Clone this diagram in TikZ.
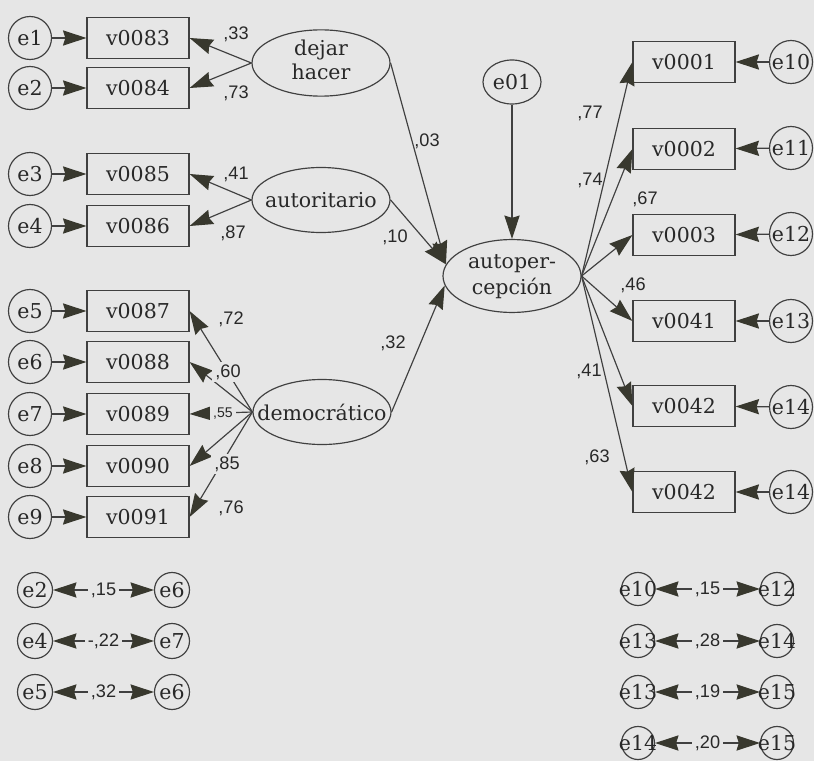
\documentclass[tikz,border=0pt]{standalone}
\usepackage{fontspec}
\setmainfont{DejaVu Serif}
\newfontfamily\wtfont{Liberation Sans}
\usetikzlibrary{arrows.meta,shapes.geometric}

\definecolor{bggray}{RGB}{230,230,230}
\definecolor{ink}{RGB}{64,64,64}
\definecolor{tipink}{RGB}{56,56,46}
\definecolor{txtgray}{RGB}{40,40,40}

\newcommand{\pxscl}{0.03}
\newcommand{\coordscl}[1]{#1*\pxscl}
\newcommand{\lenscl}[1]{#1*\pxscl cm}
\newcommand{\zw}[1]{\makebox[0pt]{#1}}
\newcommand{\errn}{\node[circle, draw=ink, line width=1pt, inner sep=0pt, minimum size=\lenscl{43}, text=txtgray]}
\newcommand{\serrn}{\errn[minimum size=\lenscl{35}]}
\newcommand{\obsn}{\node[rectangle, draw=ink, line width=1pt, inner sep=0pt, minimum width=\lenscl{102}, minimum height=\lenscl{41}, text=txtgray]}
\newcommand{\latn}{\node[ellipse, draw=ink, line width=1pt, inner sep=0pt, minimum width=\lenscl{138}, minimum height=\lenscl{65}, text=txtgray]}
\newcommand{\wtn}{\node[text=txtgray, font=\wtfont\fontsize{15.5}{17}\selectfont, inner sep=1pt]}
\newcommand{\wtcutn}{\wtn[fill=bggray, inner sep=2.5pt]}

\tikzset{
    wtcut/.style={text=txtgray, font=\wtfont\fontsize{15.5}{17}\selectfont, fill=bggray, inner sep=2.5pt},
    path/.style={ink, line width=1pt},
}

\begin{document}
\begin{tikzpicture}[font=\fontsize{17.5}{20}\selectfont,
    >={Stealth[length=20pt, width=13pt, inset=2pt, color=tipink]}]
            \useasboundingbox (0,0) rectangle (\coordscl{814}, -\coordscl{761});
            \fill[bggray] (0,0) rectangle (\coordscl{814}, -\coordscl{761});

            % left block
            \errn (e1) at (\coordscl{30}, -\coordscl{38}) {\zw{e1}};
            \errn (e2) at (\coordscl{30}, -\coordscl{88}) {\zw{e2}};
            \errn (e3) at (\coordscl{30}, -\coordscl{174}) {\zw{e3}};
            \errn (e4) at (\coordscl{30}, -\coordscl{226}) {\zw{e4}};
            \errn (e5) at (\coordscl{30}, -\coordscl{311}) {\zw{e5}};
            \errn (e6) at (\coordscl{30}, -\coordscl{362}) {\zw{e6}};
            \errn (e7) at (\coordscl{30}, -\coordscl{414}) {\zw{e7}};
            \errn (e8) at (\coordscl{30}, -\coordscl{466}) {\zw{e8}};
            \errn (e9) at (\coordscl{30}, -\coordscl{517}) {\zw{e9}};

            \obsn (v83) at (\coordscl{138}, -\coordscl{38}) {v0083};
            \obsn (v84) at (\coordscl{138}, -\coordscl{88}) {v0084};
            \obsn (v85) at (\coordscl{138}, -\coordscl{174}) {v0085};
            \obsn (v86) at (\coordscl{138}, -\coordscl{226}) {v0086};
            \obsn (v87) at (\coordscl{138}, -\coordscl{311}) {v0087};
            \obsn (v88) at (\coordscl{138}, -\coordscl{362}) {v0088};
            \obsn (v89) at (\coordscl{138}, -\coordscl{414}) {v0089};
            \obsn (v90) at (\coordscl{138}, -\coordscl{466}) {v0090};
            \obsn (v91) at (\coordscl{138}, -\coordscl{517}) {v0091};

            \latn (dh) at (\coordscl{321}, -\coordscl{63}) {\zw{\begin{tabular}{@{}c@{}}dejar\\hacer\end{tabular}}};
            \latn (au) at (\coordscl{321}, -\coordscl{200}) {\zw{autoritario}};
            \latn (de) at (\coordscl{322}, -\coordscl{412}) {\zw{democrático}};

            % centre
            \latn (ap) at (\coordscl{512}, -\coordscl{276}) {\zw{\renewcommand{\arraystretch}{1.1}\begin{tabular}{@{}c@{}}autoper-\\cepción\end{tabular}}};
            \latn[minimum width=\lenscl{58}, minimum height=\lenscl{44}] (e01) at (\coordscl{512}, -\coordscl{82}) {\zw{e01}};

            % right block
            \obsn (r01) at (\coordscl{684}, -\coordscl{62}) {v0001};
            \obsn (r02) at (\coordscl{684}, -\coordscl{149}) {v0002};
            \obsn (r03) at (\coordscl{684}, -\coordscl{235}) {v0003};
            \obsn (r41) at (\coordscl{684}, -\coordscl{321}) {v0041};
            \obsn (r42a) at (\coordscl{684}, -\coordscl{406}) {v0042};
            \obsn (r42b) at (\coordscl{684}, -\coordscl{492}) {v0042};

            \errn (e10) at (\coordscl{791}, -\coordscl{62}) {\zw{e10}};
            \errn (e11) at (\coordscl{791}, -\coordscl{148}) {\zw{e11}};
            \errn (e12) at (\coordscl{791}, -\coordscl{234}) {\zw{e12}};
            \errn (e13) at (\coordscl{791}, -\coordscl{321}) {\zw{e13}};
            \errn (e14a) at (\coordscl{791}, -\coordscl{407}) {\zw{e14}};
            \errn (e14b) at (\coordscl{791}, -\coordscl{492}) {\zw{e14}};

            % covariances
            \serrn (ca2) at (\coordscl{35}, -\coordscl{590}) {\zw{e2}};
            \serrn (cb6) at (\coordscl{172}, -\coordscl{590}) {\zw{e6}};
            \serrn (ca4) at (\coordscl{35}, -\coordscl{641}) {\zw{e4}};
            \serrn (cb7) at (\coordscl{172}, -\coordscl{641}) {\zw{e7}};
            \serrn (ca5) at (\coordscl{35}, -\coordscl{692}) {\zw{e5}};
            \serrn (cb6b) at (\coordscl{172}, -\coordscl{692}) {\zw{e6}};

            \serrn[minimum size=\lenscl{33}] (cc10) at (\coordscl{638}, -\coordscl{589}) {\zw{e10}};
            \serrn[minimum size=\lenscl{33}] (cd12) at (\coordscl{777}, -\coordscl{589}) {\zw{e12}};
            \serrn[minimum size=\lenscl{33}] (cc13) at (\coordscl{638}, -\coordscl{641}) {\zw{e13}};
            \serrn[minimum size=\lenscl{33}] (cd14) at (\coordscl{777}, -\coordscl{641}) {\zw{e14}};
            \serrn[minimum size=\lenscl{33}] (cc13b) at (\coordscl{638}, -\coordscl{692}) {\zw{e13}};
            \serrn[minimum size=\lenscl{33}] (cd15) at (\coordscl{777}, -\coordscl{692}) {\zw{e15}};
            \serrn[minimum size=\lenscl{33}] (cc14) at (\coordscl{638}, -\coordscl{743}) {\zw{e14}};
            \serrn[minimum size=\lenscl{33}] (cd15b) at (\coordscl{777}, -\coordscl{743}) {\zw{e15}};

            % one arrow per pair
            \foreach \src/\dst in {e1/v83, e2/v84, e3/v85, e4/v86, e5/v87, e6/v88,
                    e7/v89, e8/v90, e9/v91, e01/ap, e10/r01, e11/r02, e12/r03,
                    e13/r41, e14a/r42a, e14b/r42b}
                \draw[->, path] (\src) -- (\dst);

            \foreach \src/\dst in {dh/v83, dh/v84, au/v85, au/v86,
                    de/v87, de/v88, de/v89, de/v90, de/v91}
                \draw[->, path] (\src.west) -- (\dst.east);

            \foreach \dst in {r01, r02, r03, r41, r42a, r42b}
                \draw[->, path] (ap.east) -- (\dst.west);

            \draw[->, path] (dh.east) -- (ap.170);
            \draw[->, path] (au.east) -- (ap.170);
            \draw[->, path] (de.east) -- (ap.188);

            \foreach \a/\b/\val/\nm in {ca2/cb6/{,15}/k15, ca4/cb7/{-,22}/k22,
                    ca5/cb6b/{,32}/k32, cc10/cd12/{,15}/k15b, cc13/cd14/{,28}/k28,
                    cc13b/cd15/{,19}/k19, cc14/cd15b/{,20}/k20}
                \draw[<->, path] (\a) -- node[wtcut] (\nm) {\val} (\b);

            % loadings
            \wtn (w33) at (\coordscl{236}, -\coordscl{34}) {,33};
            \wtn (w73) at (\coordscl{236}, -\coordscl{93}) {,73};
            \wtn (w41) at (\coordscl{236}, -\coordscl{174}) {,41};
            \wtn (w87) at (\coordscl{233}, -\coordscl{233}) {,87};
            \wtn (w72) at (\coordscl{231}, -\coordscl{319}) {,72};
            \wtcutn (w60) at (\coordscl{228}, -\coordscl{372}) {,60};
            \wtcutn[font=\wtfont\fontsize{12}{13}\selectfont] (w55) at (\coordscl{223}, -\coordscl{414}) {,55};
            \wtcutn (w85) at (\coordscl{227}, -\coordscl{464}) {,85};
            \wtn (w76) at (\coordscl{231}, -\coordscl{508}) {,76};
            \wtn (w03) at (\coordscl{427}, -\coordscl{141}) {,03};
            \wtn (w10) at (\coordscl{395}, -\coordscl{237}) {,10};
            \wtn (w32) at (\coordscl{393}, -\coordscl{343}) {,32};
            \wtn (w77) at (\coordscl{590}, -\coordscl{113}) {,77};
            \wtn (w74) at (\coordscl{590}, -\coordscl{180}) {,74};
            \wtn (w67) at (\coordscl{645}, -\coordscl{199}) {,67};
            \wtn (w46) at (\coordscl{633}, -\coordscl{285}) {,46};
            \wtn (w41r) at (\coordscl{589}, -\coordscl{371}) {,41};
            \wtn (w63) at (\coordscl{597}, -\coordscl{457}) {,63};

        \end{tikzpicture}
\end{document}
